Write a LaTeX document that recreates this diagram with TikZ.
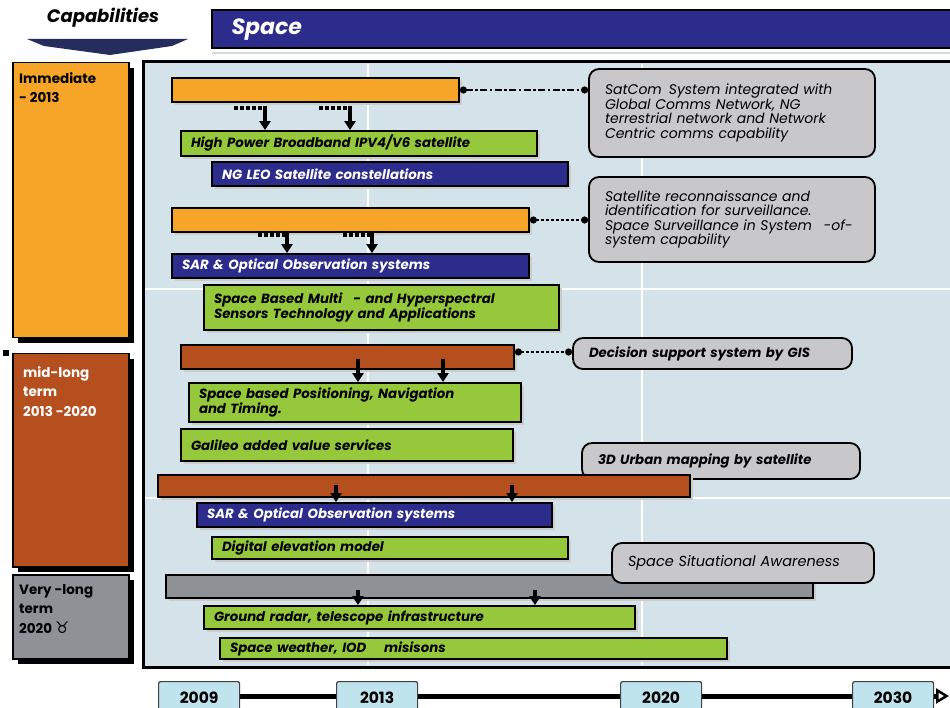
\documentclass[tikz,border=0pt]{standalone}
\usepackage{fontspec}
\setmainfont{Poppins}
\newfontfamily\symfont{DejaVu Sans}
\usepackage{tikz}
\usetikzlibrary{arrows.meta,shadows,calc}
\pgfdeclarelayer{background}
\pgfsetlayers{background,main}
\definecolor{phaseorange}{RGB}{247,165,40}
\definecolor{phasebrown}{RGB}{181,80,30}
\definecolor{phasegray}{RGB}{142,145,150}
\definecolor{barnavy}{RGB}{44,44,140}
\definecolor{bargreen}{RGB}{150,200,60}
\definecolor{callgray}{RGB}{200,200,202}
\definecolor{panelblue}{RGB}{212,226,234}
\definecolor{yearblue}{RGB}{192,228,238}
\definecolor{capnavy}{RGB}{38,44,92}
% one timeline bar: name, style, x1, y1, x2, y2, text
\newcommand{\tlbar}[7]{%
  \pgfmathsetmacro\barw{#5-#3-20}%
  \pgfmathsetmacro\barh{#6-#4}%
  \node[#2,text width=\barw pt,minimum height=\barh pt] (#1) at ({(#3+#5)/2},{(#4+#6)/2}) {#7};}
\newcommand{\barfont}{\bfseries\itshape\fontsize{13.3}{14.5}\selectfont}
\newcommand{\callfont}{\itshape\fontsize{14}{14.5}\selectfont}

\begin{document}
\begin{tikzpicture}[x=1pt,y=-1pt]
\tikzstyle{bar}=[draw=black,line width=1.8pt,inner xsep=10pt,inner ysep=1pt,align=left,font=\barfont,
  drop shadow={shadow xshift=3pt,shadow yshift=-3pt,fill=black!20,opacity=1}]
\tikzstyle{orangebar}=[bar,fill=phaseorange]
\tikzstyle{brownbar}=[bar,fill=phasebrown]
\tikzstyle{graybar}=[bar,fill=phasegray]
\tikzstyle{greenbar}=[bar,fill=bargreen]
\tikzstyle{navybar}=[bar,fill=barnavy,text=white]
\tikzstyle{callout}=[draw=black,line width=1.8pt,fill=callgray,rounded corners=10pt,inner xsep=10pt,inner ysep=1pt,
  font=\callfont,execute at begin node={\leftskip=6pt\rightskip=0pt plus 1fil}]
\tikzstyle{phase}=[draw=black,line width=1.5pt,anchor=north west,inner sep=0pt,
  drop shadow={shadow xshift=5pt,shadow yshift=-5pt,fill=black,opacity=1}]
\tikzstyle{phasetext}=[anchor=north west,align=left,inner sep=0pt,font=\bfseries\fontsize{13.5}{19.5}\selectfont]
\tikzstyle{year}=[draw=black!75,line width=1.2pt,fill=yearblue,rounded corners=2pt,minimum width=81pt,minimum height=32pt,
  anchor=north west,font=\bfseries\fontsize{15.5}{15.5}\selectfont]
\tikzstyle{drop}=[line width=3.2pt,-{Triangle[width=11pt,length=9pt]}]
\tikzstyle{lead}=[line width=4pt,dash pattern=on 4pt off 2pt]
\tikzstyle{link}=[line width=2.6pt,{Circle[length=7pt]}-{Circle[length=7pt]}]

\useasboundingbox (0,0) rectangle (950,708);

% header
\node[font=\bfseries\itshape\fontsize{18}{18}\selectfont] (cap) at (103,18) {Capabilities};
\fill[capnavy] (27,39) -- (188,39) -- (172,46) -- (110,55) -- (44,46) -- cycle;
\draw[line width=1.5pt,fill=barnavy] (212,10) rectangle (960,48);
\node[anchor=west,text=white,font=\bfseries\itshape\fontsize{22}{22}\selectfont] (space) at (228,30) {Space};
\draw[black!15,line width=1.5pt] (212,53) -- (960,53);

% phases
\node[phase,fill=phaseorange,minimum width=116pt,minimum height=275pt] (imm) at (12,62) {};
\node[phase,fill=phasebrown,minimum width=116pt,minimum height=213pt] (mid) at (12,353) {};
\node[phase,fill=phasegray,minimum width=116pt,minimum height=84pt] (vlt) at (12,574) {};
\node[phasetext] (immt) at (19,72) {Immediate\\- 2013};
\node[phasetext,text=white] (midt) at (23,366) {mid-long\\term\\2013 -2020};
\node[phasetext] (vltt) at (19,584) {Very -long\\ term\\2020 {\symfont\fontsize{16}{16}\selectfont ♉}};
\fill (3,350) rectangle (9,356);

% panel
\draw[line width=3pt,fill=panelblue] (143,62) rectangle (962,667);
\draw[white,line width=2pt] (368,64) -- (368,665) (642,64) -- (642,665);
\draw[white,line width=2pt] (145,289) -- (960,289) (145,498) -- (960,498);

% immediate
\tlbar{orA}{orangebar}{172}{78}{459}{102}{}
\tlbar{hp}{greenbar}{181}{131}{537}{156}{High Power Broadband IPV4/V6 satellite}
\tlbar{leo}{navybar}{212}{162}{568}{186}{NG LEO Satellite constellations}
\tlbar{orB}{orangebar}{172}{208}{529}{232}{}
\tlbar{sarA}{navybar}{172}{254}{529}{278}{SAR \& Optical Observation systems}
\tlbar{hyp}{greenbar}{204}{285}{559}{330}{Space Based Multi \enspace- and Hyperspectral\\Sensors Technology and Applications}
\tlbar{sc}{callout}{589}{69}{875}{157}{SatCom \,System integrated with\\Global Comms Network, NG\\terrestrial network and Network\\Centric comms capability}
\tlbar{sr}{callout}{589}{177}{875}{262}{Satellite reconnaissance and\\identification for surveillance.\\Space Surveillance in System \enspace -of-\\system capability}

% mid-long
\tlbar{brA}{brownbar}{181}{345}{514}{369}{}
\tlbar{gis}{callout,font=\barfont}{573}{338}{852}{369}{Decision support system by GIS}
\tlbar{pnt}{greenbar}{189}{383}{521}{422}{Space based Positioning, Navigation\\and Timing.}
\tlbar{gal}{greenbar}{181}{429}{513}{461}{Galileo added value services}
\tlbar{urb}{callout,font=\barfont}{582}{443}{860}{479}{3D Urban mapping by satellite}
\tlbar{brB}{brownbar}{158}{475}{690}{497}{}
\tlbar{sarB}{navybar}{197}{503}{552}{527}{SAR \& Optical Observation systems}
\tlbar{dem}{greenbar}{212}{537}{568}{559}{Digital elevation model}

% very long
\tlbar{gy}{graybar}{166}{575}{813}{598}{}
\tlbar{ssa}{callout,font=\itshape\fontsize{14.5}{15}\selectfont}{612}{543}{874}{583}{Space Situational Awareness}
\tlbar{gr}{greenbar}{204}{606}{635}{629}{Ground radar, telescope infrastructure}
\tlbar{sw}{greenbar}{220}{638}{727}{659}{Space weather, IOD \quad misisons}

% links to callouts
\draw[link,dash pattern=on 7pt off 2.5pt on 2.5pt off 2.5pt] (orA.east) -- (orA.east -| sc.west);
\draw[link,dash pattern=on 3pt off 2pt] (orB.east) -- (orB.east -| sr.west);
\draw[link,dash pattern=on 3pt off 2pt] ($(brA.east)+(0,-5)$) -- ($(brA.east -| gis.west)+(0,-5)$);

% drops
\foreach \xx in {265,350} {
  \draw[lead] (\xx-31,108) -- (\xx-2,108);
  \draw[drop] (\xx,106) -- (\xx,106 |- hp.north);
}
\foreach \xx in {287,372} {
  \draw[lead] (\xx-29,235) -- (\xx-2,235);
  \draw[drop] (\xx,233) -- (\xx,233 |- sarA.north);
}
\foreach \xx in {358,443} \draw[drop] (\xx,359) -- (\xx,359 |- pnt.north);
\foreach \xx in {336,512} \draw[drop] (\xx,485) -- (\xx,485 |- sarB.north);
\foreach \xx in {358,535} \draw[drop] (\xx,590) -- (\xx,590 |- gr.north);

% time axis
\node[year] (y2009) at (158,681) {2009};
\node[year] (y2013) at (336,681) {2013};
\node[year] (y2020) at (620,681) {2020};
\node[year] (y2030) at (852,681) {2030};
\coordinate (tend) at (949,696);
\begin{pgfonlayer}{background}
\draw[line width=5pt,-{Triangle[open,length=13pt,width=15pt,line width=2.5pt]}] (y2009.east |- tend) -- (tend);
\end{pgfonlayer}
\end{tikzpicture}
\end{document}
